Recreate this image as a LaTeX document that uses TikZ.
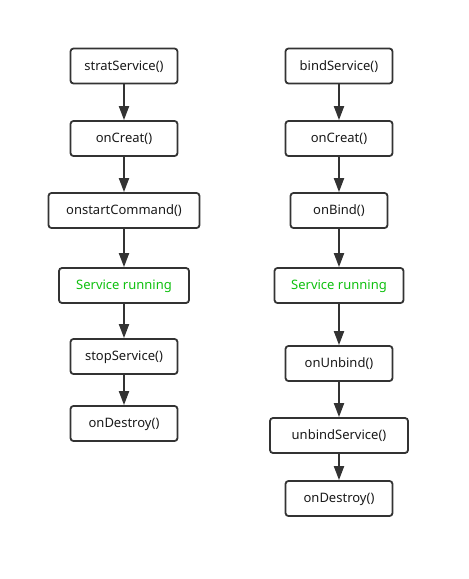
\documentclass[tikz,border=0pt]{standalone}
\usepackage{fontspec}
\setmainfont{Noto Sans}
\usetikzlibrary{arrows.meta}
\definecolor{lineclr}{HTML}{333333}
\definecolor{runclr}{HTML}{10C010}
\begin{document}
\begin{tikzpicture}[x=1pt,y=-1pt,>={Triangle[length=14pt,width=10pt]},font=\fontsize{13pt}{15pt}\selectfont]
	\tikzset{
		box/.style={draw=lineclr,line width=1.8pt,rounded corners=3pt,minimum height=35pt,inner sep=0pt,text height=9pt,text depth=1pt,text=black!90},
		run/.style={box,text=runclr},
		flow/.style={->,draw=lineclr,line width=2pt}
	}
	\useasboundingbox (0,0) rectangle (469,579);
	% start side
	\node[box,minimum width=107pt] (start) at (124,66) {stratService()};
	\node[box,minimum width=107pt] (creatA) at (124,138.5) {onCreat()};
	\node[box,minimum width=151pt] (command) at (124,210.5) {onstartCommand()};
	\node[run,minimum width=130pt] (runA) at (124,285.5) {Service running};
	\node[box,minimum width=107pt] (stop) at (124,356.5) {stopService()};
	\node[box,minimum width=107pt] (destroyA) at (124,423.5) {onDestroy()};
	% bind side
	\node[box,minimum width=107pt] (bind) at (339,66) {bindService()};
	\node[box,minimum width=107pt] (creatB) at (339,138.5) {onCreat()};
	\node[box,minimum width=97pt] (onbind) at (339,210.5) {onBind()};
	\node[run,minimum width=129pt] (runB) at (339,285.5) {Service running};
	\node[box,minimum width=107pt] (unbind) at (339,363.5) {onUnbind()};
	\node[box,minimum width=138pt] (unbindsvc) at (339,435.5) {unbindService()};
	\node[box,minimum width=107pt] (destroyB) at (339,498.5) {onDestroy()};
	\foreach \a/\b in {start/creatA,creatA/command,command/runA,runA/stop,stop/destroyA,
		bind/creatB,creatB/onbind,onbind/runB,runB/unbind,unbind/unbindsvc,unbindsvc/destroyB}
		\draw[flow] (\a) -- (\b);
\end{tikzpicture}
\end{document}
